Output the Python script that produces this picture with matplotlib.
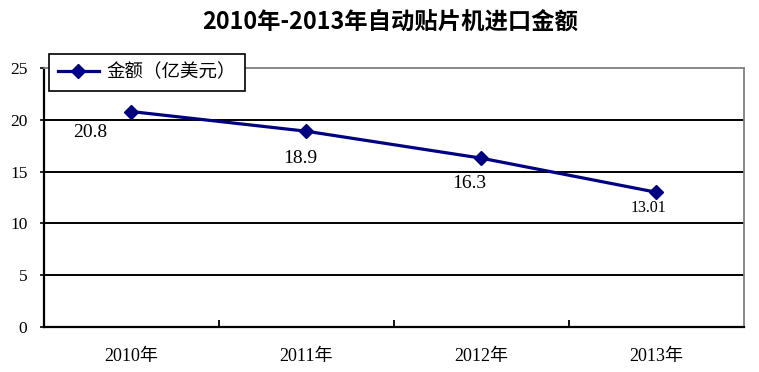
import matplotlib
matplotlib.use("Agg")
import matplotlib.pyplot as plt
from matplotlib.lines import Line2D

plt.rcParams['font.family'] = ['Liberation Serif', 'Noto Sans CJK SC']

years = ["2010年", "2011年", "2012年", "2013年"]
amounts = [20.8, 18.9, 16.3, 13.01]
value_labels = ["20.8", "18.9", "16.3", "13.01"]
series_name = "金额（亿美元）"
title = "2010年-2013年自动贴片机进口金额"

# label offsets in points, relative to each marker
label_offsets = [(-29.5, -14.8), (-4.5, -19.4), (-8.6, -18), (-5.8, -11.5)]
label_sizes = [14, 14, 14, 11.5]

navy = "#000080"

fig = plt.figure(figsize=(7.59, 3.72), dpi=100)
ax = fig.add_axes([0.058, 0.121, 0.922, 0.696])

x = list(range(len(years)))
ax.plot(x, amounts, color=navy, lw=2.3, marker="D", ms=7.5, zorder=3)

for i, (v, lab) in enumerate(zip(amounts, value_labels)):
    ax.annotate(lab, (i, v), xytext=label_offsets[i], textcoords="offset points",
                ha="center", va="center", fontsize=label_sizes[i],
                family=['Liberation Serif'])

ax.set_xlim(-0.5, 3.5)
ax.set_ylim(0, 25)
ax.set_yticks([0, 5, 10, 15, 20, 25])
for yv in [5, 10, 15, 20]:
    ax.axhline(yv, color="black", lw=1.4, zorder=1)

ax.set_xticks(x)
ax.set_xticklabels(years, fontsize=13)
ax.tick_params(axis="x", length=0, pad=15)
ax.set_xticks([0.5, 1.5, 2.5], minor=True)
ax.tick_params(axis="x", which="minor", direction="in", length=5, width=1.3, color="black")
ax.tick_params(axis="y", direction="out", length=3, width=1.2, labelsize=12.5, pad=9)

for side in ["top", "right"]:
    ax.spines[side].set_color("#808080")
    ax.spines[side].set_linewidth(1.3)
for side in ["left", "bottom"]:
    ax.spines[side].set_color("black")
    ax.spines[side].set_linewidth(1.6)

handle = Line2D([], [], color=navy, lw=2.3, marker="D", ms=7.5)
leg = ax.legend([handle], [series_name], loc="upper left",
                bbox_to_anchor=(0.007, 1.054), borderaxespad=0,
                fancybox=False, framealpha=1, edgecolor="black",
                borderpad=0.5, handlelength=2.2, handletextpad=0.4,
                prop={'family': ['Noto Sans CJK SC'], 'size': 13.3})
leg.get_frame().set_linewidth(1.2)

fig.text(0.514, 0.941, title, ha="center", va="center", fontsize=16.8,
         fontweight="bold", family=['Noto Sans CJK SC'])

fig.savefig("out.png", dpi=100)
